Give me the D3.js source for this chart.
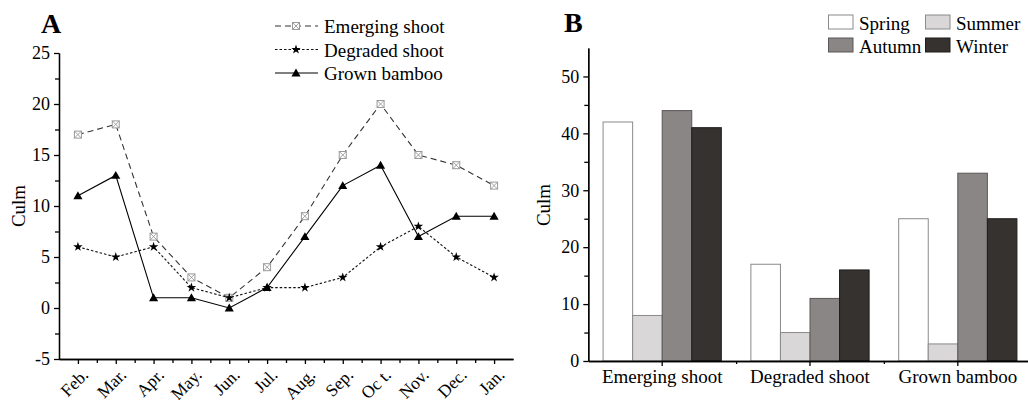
<!DOCTYPE html>
<html>
<head>
<meta charset="utf-8">
<script src="https://cdn.jsdelivr.net/npm/d3@7"></script>
<style>
  body { margin: 0; background: #fff; }
  .axis path, .axis line { stroke: #000; stroke-width: 1.3; }
</style>
</head>
<body>
<div id="chart"></div>
<script>
// panel A data
const months = ["Feb.", "Mar.", "Apr.", "May.", "Jun.", "Jul.", "Aug.", "Sep.", "Oc t.", "Nov.", "Dec.", "Jan."];
const emerging = [17, 18, 7, 3, 1, 4, 9, 15, 20, 15, 14, 12];
const degraded = [6, 5, 6, 2, 1, 2, 2, 3, 6, 8, 5, 3];
const grown = [11, 13, 1, 1, 0, 2, 7, 12, 14, 7, 9, 9];
const seriesNames = ["Emerging shoot", "Degraded shoot", "Grown bamboo"];
const yTicksA = [-5, 0, 5, 10, 15, 20, 25];

// panel B data
const groups = ["Emerging shoot", "Degraded shoot", "Grown bamboo"];
const seasons = ["Spring", "Summer", "Autumn", "Winter"];
const spring = [42, 17, 25];
const summer = [8, 5, 3];
const autumn = [44, 11, 33];
const winter = [41, 16, 25];
const yTicksB = [0, 10, 20, 30, 40, 50];

const seasonFill = { Spring: "#ffffff", Summer: "#d9d7d7", Autumn: "#8b8686", Winter: "#363230" };
const seasonStroke = { Spring: "#8a8a8a", Summer: "#8a8a8a", Autumn: "#5a5656", Winter: "#1e1c1b" };

const FONT = "'Liberation Serif', 'DejaVu Serif', serif";

const svg = d3.select("#chart").append("svg")
  .attr("width", 1028)
  .attr("height", 400)
  .attr("font-family", FONT);

function fixAxisText(g, size) {
  g.attr("font-family", FONT).attr("font-size", size);
  g.selectAll("text").style("font-family", FONT).style("font-size", size + "px").attr("fill", "#000");
}

// ---------------- Panel A ----------------
const xA = d3.scaleLinear().domain([-0.5, 11.5]).range([59, 513]);
const yA = d3.scaleLinear().domain([-5, 25]).range([359, 53]);

// minor ticks first
svg.append("g").attr("class", "axis")
  .attr("transform", "translate(0,359)")
  .call(d3.axisBottom(xA).tickValues(d3.range(0, 11).map(i => i + 0.5)).tickFormat("").tickSize(4).tickSizeOuter(0));
svg.append("g").attr("class", "axis")
  .attr("transform", "translate(59,0)")
  .call(d3.axisLeft(yA).tickValues([-2.5, 2.5, 7.5, 12.5, 17.5, 22.5]).tickFormat("").tickSize(4).tickSizeOuter(0));

const xAxisA = svg.append("g").attr("class", "axis")
  .attr("transform", "translate(0,359)")
  .call(d3.axisBottom(xA).tickValues(d3.range(12)).tickFormat(i => months[i]).tickSize(5).tickSizeOuter(0))
  .call(fixAxisText, 17.5);
xAxisA.selectAll("text")
  .attr("x", 0).attr("y", 0).attr("dy", 0)
  .attr("text-anchor", "end")
  .attr("transform", "translate(11,17) rotate(-45)");

svg.append("g").attr("class", "axis")
  .attr("transform", "translate(59,0)")
  .call(d3.axisLeft(yA).tickValues(yTicksA).tickFormat(d => String(d)).tickSize(5).tickPadding(4).tickSizeOuter(0))
  .call(fixAxisText, 18);

svg.append("text")
  .attr("transform", "translate(25,206) rotate(-90)")
  .attr("text-anchor", "middle")
  .style("font-family", FONT)
  .style("font-size", "19px")
  .text("Culm");

svg.append("text")
  .attr("x", 41).attr("y", 33)
  .style("font-family", FONT)
  .style("font-size", "28px").style("font-weight", "bold")
  .text("A");

const lineA = d3.line().x((d, i) => xA(i)).y(d => yA(d));

const styles = [
  { data: emerging, dash: "6,4", color: "#333" },
  { data: degraded, dash: "2.5,2", color: "#111" },
  { data: grown, dash: null, color: "#000" }
];

styles.forEach(s => {
  svg.append("path")
    .datum(s.data)
    .attr("fill", "none")
    .attr("stroke", s.color)
    .attr("stroke-width", 1.1)
    .attr("stroke-dasharray", s.dash)
    .attr("d", lineA);
});

function boxMarker(g) {
  g.append("rect").attr("x", -3.5).attr("y", -3.5).attr("width", 7).attr("height", 7)
    .attr("fill", "#fff").attr("stroke", "#999").attr("stroke-width", 1);
  g.append("path").attr("d", "M-3.5,-3.5L3.5,3.5M3.5,-3.5L-3.5,3.5")
    .attr("stroke", "#999").attr("stroke-width", 0.9);
}
const star = d3.symbol().type(d3.symbolStar).size(28);
const tri = d3.symbol().type(d3.symbolTriangle).size(36);

svg.append("g").selectAll("g")
  .data(emerging).join("g")
  .attr("transform", (d, i) => `translate(${xA(i)},${yA(d)})`)
  .each(function () { boxMarker(d3.select(this)); });

svg.append("g").selectAll("path")
  .data(degraded).join("path")
  .attr("transform", (d, i) => `translate(${xA(i)},${yA(d)})`)
  .attr("d", star).attr("fill", "#000");

svg.append("g").selectAll("path")
  .data(grown).join("path")
  .attr("transform", (d, i) => `translate(${xA(i)},${yA(d) + 0.8})`)
  .attr("d", tri).attr("fill", "#000");

// legend A
const legA = svg.append("g");
const legRowsY = [26, 49.5, 73];
styles.forEach((s, k) => {
  const y = legRowsY[k];
  legA.append("line")
    .attr("x1", 275).attr("x2", 318).attr("y1", y).attr("y2", y)
    .attr("stroke", s.color).attr("stroke-width", 1.1)
    .attr("stroke-dasharray", s.dash);
  const m = legA.append("g").attr("transform", `translate(296,${y})`);
  if (k === 0) boxMarker(m);
  else if (k === 1) m.append("path").attr("d", star).attr("fill", "#000");
  else m.append("path").attr("d", tri).attr("transform", "translate(0,0.8)").attr("fill", "#000");
  legA.append("text")
    .attr("x", 324).attr("y", y + 7.3)
    .style("font-family", FONT)
    .style("font-size", "19px")
    .text(seriesNames[k]);
});

// ---------------- Panel B ----------------
const xB = d3.scaleBand().domain(groups).range([588.3, 1031.7]).paddingInner(0.2).paddingOuter(0.1);
const xS = d3.scaleBand().domain(seasons).range([0, xB.bandwidth()]);
const yB = d3.scaleLinear().domain([0, 55]).range([361, 48]);

const valuesBySeason = { Spring: spring, Summer: summer, Autumn: autumn, Winter: winter };
const barData = [];
groups.forEach((g, gi) => {
  seasons.forEach(s => barData.push({ group: g, season: s, value: valuesBySeason[s][gi] }));
});

svg.append("g").selectAll("rect")
  .data(barData).join("rect")
  .attr("x", d => xB(d.group) + xS(d.season))
  .attr("y", d => yB(d.value))
  .attr("width", xS.bandwidth())
  .attr("height", d => yB(0) - yB(d.value))
  .attr("fill", d => seasonFill[d.season])
  .attr("stroke", d => seasonStroke[d.season])
  .attr("stroke-width", 1);

// minor ticks
svg.append("g").attr("class", "axis")
  .attr("transform", "translate(588.3,0)")
  .call(d3.axisLeft(yB).tickValues([5, 15, 25, 35, 45]).tickFormat("").tickSize(4).tickSizeOuter(0));

const xLin = d3.scaleLinear().domain([0, 3]).range([588.3, 1031.7]);
svg.append("g").attr("class", "axis")
  .attr("transform", "translate(0,361)")
  .call(d3.axisBottom(xLin).tickValues([1, 2]).tickFormat("").tickSize(3).tickSizeOuter(0));

svg.append("g").attr("class", "axis")
  .attr("transform", "translate(0,361)")
  .call(d3.axisBottom(xB).tickSize(5).tickPadding(4).tickSizeOuter(0))
  .call(fixAxisText, 19);

svg.append("g").attr("class", "axis")
  .attr("transform", "translate(588.3,0)")
  .call(d3.axisLeft(yB).tickValues(yTicksB).tickSize(5).tickPadding(4).tickSizeOuter(0))
  .call(fixAxisText, 18);

svg.append("text")
  .attr("transform", "translate(550,205) rotate(-90)")
  .attr("text-anchor", "middle")
  .style("font-family", FONT)
  .style("font-size", "19px")
  .text("Culm");

svg.append("text")
  .attr("x", 564).attr("y", 32)
  .style("font-family", FONT)
  .style("font-size", "28px").style("font-weight", "bold")
  .text("B");

// legend B
const legB = svg.append("g");
const legPos = [
  { s: "Spring", x: 828.5, y: 15 },
  { s: "Summer", x: 925.5, y: 15 },
  { s: "Autumn", x: 828.5, y: 38 },
  { s: "Winter", x: 925.5, y: 38 }
];
legPos.forEach(p => {
  legB.append("rect")
    .attr("x", p.x).attr("y", p.y).attr("width", 24.5).attr("height", 14)
    .attr("fill", seasonFill[p.s]).attr("stroke", seasonStroke[p.s]).attr("stroke-width", 1);
  legB.append("text")
    .attr("x", p.x + 30.5).attr("y", p.y + 14.5)
    .style("font-family", FONT)
    .style("font-size", "19px")
    .text(p.s);
});
</script>
</body>
</html>
